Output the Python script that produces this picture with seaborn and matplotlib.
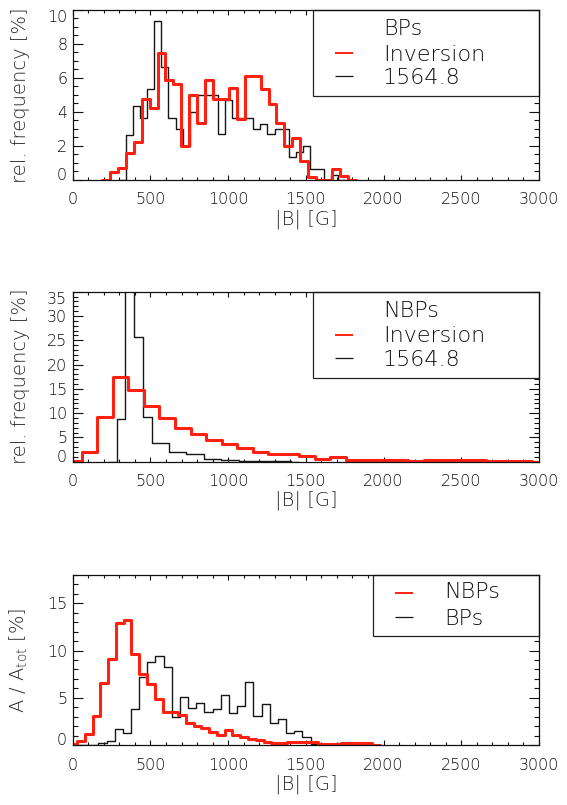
import numpy as np
import pandas as pd
import matplotlib
matplotlib.use("Agg")
import matplotlib.pyplot as plt
from matplotlib.patches import Rectangle
from matplotlib.ticker import MultipleLocator
import seaborn as sns

# ---------------- data: relative frequency [%] per |B| bin ----------------
# Panel 1: bright points (BPs)
bp_inv_first_edge = 240          # G
bp_inv_bin_width = 51            # G
bp_inversion = [0.47, 0.70, 1.59, 2.24, 4.75, 4.26, 7.47, 5.86, 5.63, 1.98,
                4.98, 3.35, 5.86, 4.75, 4.75, 5.41, 3.61, 6.10, 6.10, 5.38,
                4.49, 3.38, 2.00, 2.49, 1.12, 0.18, 0.00, 0.00, 0.67, 0.24]
bp_1564_first_edge = 343
bp_1564_bin_width = 45.5
bp_1564 = [2.67, 4.33, 3.67, 5.33, 9.35, 6.65, 3.67, 3.00, 2.00, 4.00,
           5.00, 5.00, 5.00, 2.69, 4.69, 3.67, 3.67, 3.67, 3.00, 3.30,
           2.69, 3.00, 3.00, 1.35, 1.65, 2.00, 0.67, 0.67, 0.00, 0.30]

# Panel 2: non-bright points (NBPs)
nbp_inv_first_edge = -42
nbp_inv_bin_width = 100
nbp_inversion = [0.20, 2.06, 9.27, 17.5, 14.8, 11.5, 9.06, 6.87, 5.64, 4.47,
                 3.64, 2.88, 2.06, 1.60, 1.55, 1.10, 0.55, 0.90, 0.40, 0.40,
                 0.35, 0.35, 0.15, 0.35, 0.30, 0.35, 0.35, 0.15, 0.15, 0.15]
nbp_1564_first_edge = 283
nbp_1564_bin_width = 56
nbp_1564 = [8.73, 38.5, 25.6, 9.27, 3.92, 3.92, 2.06, 2.06, 1.58, 1.58,
            0.55, 0.55, 0.35, 0.35, 0.10, 0.10, 0.05, 0.05, 0.05, 0.05]

# Panel 3: area fraction A / A_tot [%]
area_nbp_first_edge = -22
area_nbp_bin_width = 50
area_nbp = [0.10, 0.42, 1.16, 3.07, 6.60, 9.11, 12.9, 13.24, 9.64, 7.52,
            6.46, 4.87, 3.53, 3.53, 3.18, 2.29, 2.05, 1.76, 1.41, 1.06,
            1.59, 1.06, 0.88, 0.60, 0.49, 0.35, 0.25, 0.25, 0.28, 0.35,
            0.35, 0.35, 0.07, 0.07, 0.07, 0.18, 0.18, 0.18, 0.18]
area_bp_first_edge = -45
area_bp_bin_width = 52.5
area_bp = [0.05, 0.05, 0.05, 0.05, 0.25, 0.42, 1.69, 1.31, 3.81, 7.17,
           8.76, 9.43, 8.23, 3.00, 5.12, 3.88, 4.48, 3.53, 3.78, 5.30,
           3.42, 4.13, 6.64, 3.07, 4.34, 2.29, 2.72, 1.24, 1.52, 0.81, 0.10]

x_ticks = [0, 500, 1000, 1500, 2000, 2500, 3000]
x_label = "|B| [G]"
y_labels = ["rel. frequency [%]", "rel. frequency [%]", r"A / A$_{\rm tot}$ [%]"]
y_limits = [(0, 10), (0, 35), (0, 18)]
y_major = [2, 5, 5]
y_minor = [0.5, 1, 1]
legend_texts = [["BPs", "Inversion", "1564.8"],
                ["NBPs", "Inversion", "1564.8"],
                ["NBPs", "BPs"]]

RED = "#ff2010"
BLACK = "#161616"
WEIGHT = "light"

# ---------------- style ----------------
sns.set_theme(style="ticks")
plt.rcParams["font.family"] = ["DejaVu Sans"]
plt.rcParams["font.weight"] = WEIGHT
plt.rcParams["mathtext.fontset"] = "dejavusans"
plt.rcParams["axes.linewidth"] = 0.9
plt.rcParams["axes.edgecolor"] = "#111111"
plt.rcParams["xtick.color"] = "#111111"
plt.rcParams["ytick.color"] = "#111111"
plt.rcParams["text.color"] = "#111111"

fig = plt.figure(figsize=(5.67, 8.05), dpi=100)
fig.patch.set_facecolor("white")

W_PX, H_PX = 567.0, 805.0
ax_left, ax_w, ax_h = 72.7 / W_PX, 466.3 / W_PX, 170.0 / H_PX
ax_bottoms_px = [180.0, 461.7, 745.0]


def draw_hist(ax, first_edge, width, values, color, lw, z):
    vals = np.r_[0.0, np.asarray(values, float), 0.0]
    edges = first_edge + width * np.arange(-1, len(values) + 2)
    centers = 0.5 * (edges[:-1] + edges[1:])
    df = pd.DataFrame({"B": centers, "w": vals})
    sns.histplot(data=df, x="B", weights="w", bins=[float(e) for e in edges],
                 element="step", fill=False, color=color, linewidth=lw,
                 ax=ax, zorder=z)


def draw_key(ax, box_left, box_bottom, texts, colors, text_x, line_x0, line_x1,
             text_ys, line_ys):
    ax.add_patch(Rectangle((box_left, box_bottom), 1 - box_left, 1 - box_bottom,
                           transform=ax.transAxes, facecolor="white",
                           edgecolor="#222222", lw=0.9, zorder=6, clip_on=False))
    for t, c, ty, ly in zip(texts, colors, text_ys, line_ys):
        ax.text(text_x, ty, t, transform=ax.transAxes, fontsize=16,
                va="center", ha="left", zorder=7, color="#111111",
                fontweight=WEIGHT)
        if c is not None:
            ax.plot([line_x0, line_x1], [ly, ly], transform=ax.transAxes,
                    color=c, lw=1.4 if c == RED else 0.9, zorder=7,
                    solid_capstyle="butt")


axes = []
for i in range(3):
    b = 1 - ax_bottoms_px[i] / H_PX
    ax = fig.add_axes([ax_left, b, ax_w, ax_h])
    axes.append(ax)

# panel 1
draw_hist(axes[0], bp_1564_first_edge, bp_1564_bin_width, bp_1564, BLACK, 1.0, 2)
draw_hist(axes[0], bp_inv_first_edge, bp_inv_bin_width, bp_inversion, RED, 2.2, 3)
# panel 2
draw_hist(axes[1], nbp_1564_first_edge, nbp_1564_bin_width, nbp_1564, BLACK, 1.0, 2)
draw_hist(axes[1], nbp_inv_first_edge, nbp_inv_bin_width, nbp_inversion, RED, 2.2, 3)
# panel 3
draw_hist(axes[2], area_bp_first_edge, area_bp_bin_width, area_bp, BLACK, 1.0, 2)
draw_hist(axes[2], area_nbp_first_edge, area_nbp_bin_width, area_nbp, RED, 2.2, 3)

for i, ax in enumerate(axes):
    ax.set_xlim(0, 3000)
    ax.set_xticks(x_ticks)
    ax.set_xticklabels([str(v) for v in x_ticks])
    ax.xaxis.set_minor_locator(MultipleLocator(100))
    ax.yaxis.set_major_locator(MultipleLocator(y_major[i]))
    ax.yaxis.set_minor_locator(MultipleLocator(y_minor[i]))
    ax.set_ylim(*y_limits[i])
    for s in ax.spines.values():
        s.set_visible(True)
        s.set_zorder(8)
    ax.tick_params(axis="both", which="both", direction="in", top=True,
                   right=True, labelsize=11.5, width=0.8)
    ax.tick_params(axis="x", which="major", length=3.8, pad=9)
    ax.tick_params(axis="x", which="minor", length=2.2)
    ax.tick_params(axis="y", which="major", length=7.0, pad=4)
    ax.tick_params(axis="y", which="minor", length=3.4)
    ax.set_xlabel(x_label, fontsize=14, fontweight=WEIGHT)
    ax.set_ylabel(y_labels[i], fontsize=14, fontweight=WEIGHT)
    ax.xaxis.set_label_coords(0.5, -0.172)
    ax.yaxis.set_label_coords(-0.092, 0.5)
    ax.set_facecolor("white")
    for lab in ax.get_xticklabels() + ax.get_yticklabels():
        lab.set_fontweight(WEIGHT)

# keys
draw_key(axes[0], 0.5153, 0.494, legend_texts[0], [None, RED, BLACK],
         0.6655, 0.5625, 0.601, [0.886, 0.737, 0.6006], [0.899, 0.748, 0.612])
draw_key(axes[1], 0.5153, 0.492, legend_texts[1], [None, RED, BLACK],
         0.6655, 0.5625, 0.601, [0.886, 0.737, 0.6006], [0.899, 0.748, 0.612])
draw_key(axes[2], 0.6447, 0.643, legend_texts[2], [RED, BLACK],
         0.796, 0.6918, 0.730, [0.899, 0.742], [0.896, 0.755])

fig.canvas.draw()
for i, ax in enumerate(axes):
    ticks = [t for t in ax.yaxis.get_major_ticks()]
    locs = ax.yaxis.get_majorticklocs()
    lo, hi = y_limits[i]
    for t, loc in zip(ticks, locs):
        t.label1.set_fontweight(WEIGHT)
        if abs(loc - lo) < 1e-9:
            t.label1.set_va("baseline")
        elif abs(loc - hi) < 1e-9:
            t.label1.set_va("top")

fig.savefig("out.png", dpi=100, facecolor="white")
